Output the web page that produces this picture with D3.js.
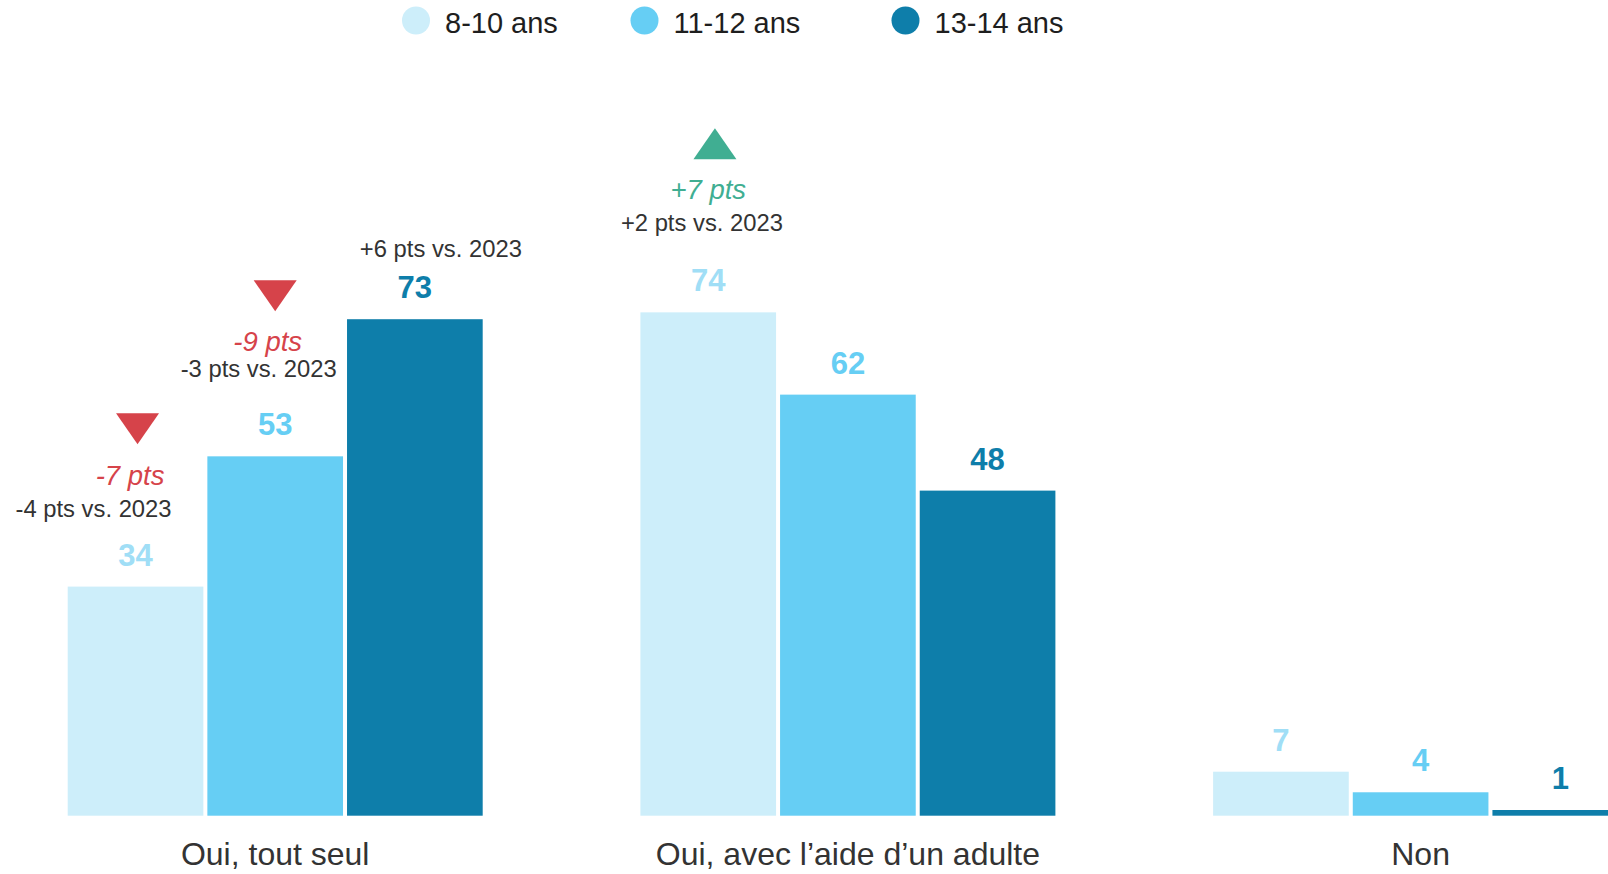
<!DOCTYPE html>
<html>
<head>
<meta charset="utf-8">
<script src="https://cdn.jsdelivr.net/npm/d3@7"></script>
<style>
  html, body { margin: 0; padding: 0; background: #fff; overflow: hidden; }
  svg { display: block; }
  text { font-family: "Liberation Sans", Arial, sans-serif; }
</style>
</head>
<body>
<svg id="chart" width="1608" height="874"></svg>
<script>
// ---- data ----
const categories = ["Oui, tout seul", "Oui, avec l\u2019aide d\u2019un adulte", "Non"];
const series = ["8-10 ans", "11-12 ans", "13-14 ans"];
const values_8_10 = [34, 74, 7];
const values_11_12 = [53, 62, 4];
const values_13_14 = [73, 48, 1];

// annotations (evolution)
const annCategory = ["Oui, tout seul", "Oui, tout seul", "Oui, tout seul", "Oui, avec l\u2019aide d\u2019un adulte"];
const annSeries = ["8-10 ans", "11-12 ans", "13-14 ans", "8-10 ans"];
const annChange = ["-7 pts", "-9 pts", "", "+7 pts"];
const annVs2023 = ["-4 pts vs. 2023", "-3 pts vs. 2023", "+6 pts vs. 2023", "+2 pts vs. 2023"];

// ---- styles / layout ----
const colors = ["#cdeefa", "#66cef4", "#0e7eaa"];
const labelColors = ["#a0def6", "#66cef4", "#0e7eaa"];
const downColor = "#d6434a";
const upColor = "#40ae92";
const textColor = "#333333";

const valuesBySeries = [values_8_10, values_11_12, values_13_14];
const rows = [];
categories.forEach((c, ci) => series.forEach((s, si) => rows.push({cat: c, ser: s, si, v: valuesBySeries[si][ci]})));

const svg = d3.select("#chart");

const x0 = d3.scaleBand().domain(categories).range([65.7, 1630.1]).paddingInner(0.2684).paddingOuter(0);
const x1 = d3.scaleBand().domain(series).range([0, x0.bandwidth()]).padding(0);
const y = d3.scaleLinear().domain([0, 100]).range([817.7, 132.1]);

const cx = (c, s) => x0(c) + x1(s) + x1.bandwidth() / 2;
const visTop = v => Math.min(y(v) + 2, y(0) - 2 - 5.7);

// bars
svg.append("g").selectAll("rect").data(rows).join("rect")
  .attr("x", d => x0(d.cat) + x1(d.ser) + 2)
  .attr("width", x1.bandwidth() - 4)
  .attr("y", d => visTop(d.v))
  .attr("height", d => (y(0) - 2) - visTop(d.v))
  .attr("fill", d => colors[d.si]);

// value labels
svg.append("g").selectAll("text").data(rows).join("text")
  .attr("x", d => cx(d.cat, d.ser))
  .attr("y", d => visTop(d.v) - 21)
  .attr("text-anchor", "middle")
  .attr("font-size", 31)
  .attr("font-weight", "bold")
  .attr("fill", d => labelColors[d.si])
  .text(d => d.v);

// category axis labels
const xAxis = d3.axisBottom(x0).tickSize(0).tickPadding(0);
const ax = svg.append("g").attr("transform", `translate(0, ${y(0)})`).call(xAxis);
ax.select(".domain").remove();
ax.selectAll(".tick text")
  .attr("dy", 0).attr("y", 47)
  .attr("font-size", 32)
  .attr("font-family", "Liberation Sans, Arial, sans-serif")
  .attr("fill", textColor);

// annotations
const annLayout = [
  {vsDx: -42, vsDy: -67.3, chDx: -5.5, chDy: -99.6, triDx: 2, triDy: -155.8},
  {vsDx: -16.5, vsDy: -77.6, chDx: -7.5, chDy: -103.6, triDx: 0, triDy: -158.5},
  {vsDx: 26, vsDy: -59.9},
  {vsDx: -6.3, vsDy: -79.7, chDx: 0, chDy: -111, triDx: 6.7, triDy: -166.6}
];
const annG = svg.append("g");
annVs2023.forEach((t, i) => {
  const c = annCategory[i], s = annSeries[i];
  const si = series.indexOf(s), ci = categories.indexOf(c);
  const v = valuesBySeries[si][ci];
  const bx = cx(c, s), by = y(v);
  const L = annLayout[i];
  annG.append("text")
    .attr("x", bx + L.vsDx).attr("y", by + L.vsDy)
    .attr("text-anchor", "middle").attr("font-size", 23.8)
    .attr("fill", textColor).text(t);
  const ch = annChange[i];
  if (ch) {
    const up = ch.trim().startsWith("+");
    const col = up ? upColor : downColor;
    annG.append("text")
      .attr("x", bx + L.chDx).attr("y", by + L.chDy)
      .attr("text-anchor", "middle").attr("font-size", 27.5)
      .attr("font-style", "italic")
      .attr("fill", col).text(ch);
    const tx = bx + L.triDx, ty = by + L.triDy, w = 43, h = 31;
    const pts = up
      ? [[tx - w / 2, ty + h / 2], [tx + w / 2, ty + h / 2], [tx, ty - h / 2]]
      : [[tx - w / 2, ty - h / 2], [tx + w / 2, ty - h / 2], [tx, ty + h / 2]];
    annG.append("path").attr("d", d3.line()(pts) + "Z").attr("fill", col);
  }
});

// legend
const legendX = [416, 644.5, 905.5];
const lg = svg.append("g");
series.forEach((s, i) => {
  lg.append("circle").attr("cx", legendX[i]).attr("cy", 20.5).attr("r", 14).attr("fill", colors[i]);
  lg.append("text").attr("x", legendX[i] + 29).attr("y", 33)
    .attr("font-size", 29).attr("fill", "#1e1e1e").text(s);
});
</script>
</body>
</html>
